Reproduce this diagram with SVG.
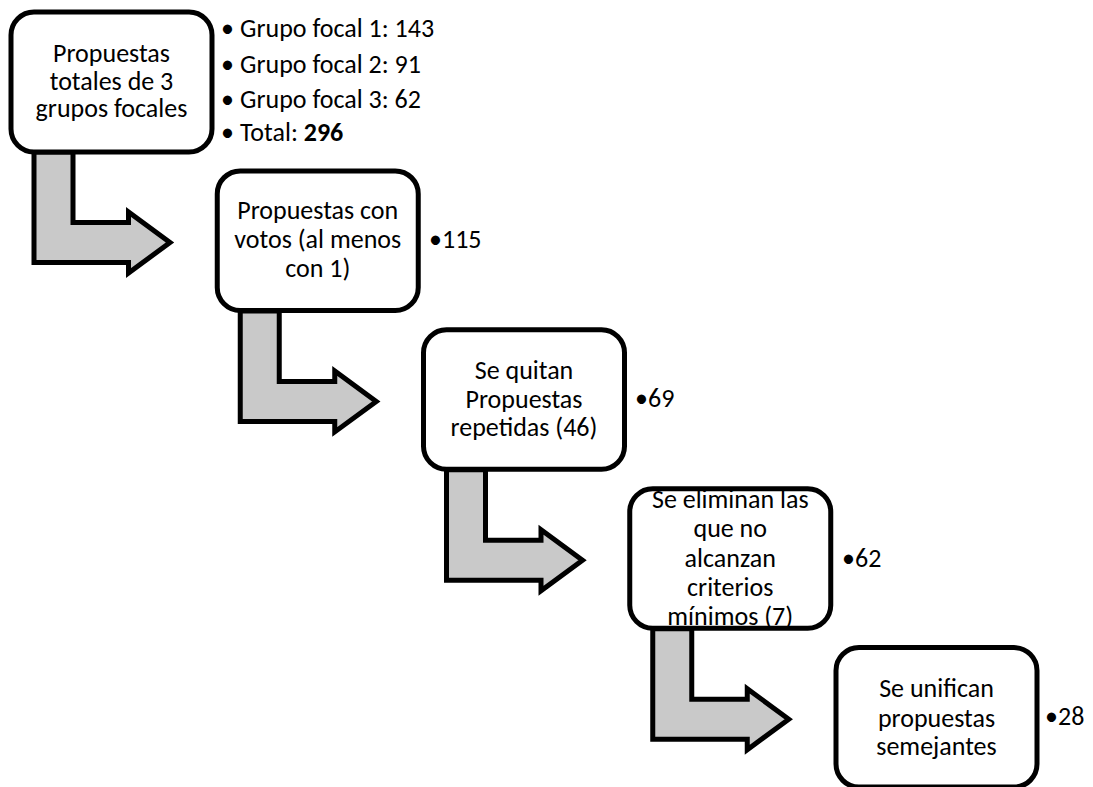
<svg xmlns="http://www.w3.org/2000/svg" width="1093" height="787" viewBox="0 0 1093 787">
  <defs>
    <style>
      .box { fill: #ffffff; stroke: #000000; stroke-width: 5; }
      .flow { fill: #c9c9c9; stroke: #000000; stroke-width: 5; stroke-linejoin: miter; stroke-miterlimit: 10; }
      .lbl { font-family: Carlito, Lato, "Liberation Sans", sans-serif; font-size: 26px; fill: #000000; text-anchor: middle; }
      .note { font-family: Carlito, Lato, "Liberation Sans", sans-serif; font-size: 26px; fill: #000000; }
      .bold { font-weight: bold; }
    </style>
    <!-- bent step arrow, origin at the top-left corner of the box it leaves -->
    <path id="step" d="M23,140 L62,140 L62,210.5 L117.5,210.5 L117.5,200 L159,230.5 L117.5,261 L117.5,250.5 L23,250.5 Z"/>
  </defs>

  <rect width="1093" height="787" fill="#ffffff"/>

  <!-- connectors -->
  <g id="connectors">
    <use href="#step" class="flow" transform="translate(11,12)"/>
    <use href="#step" class="flow" transform="translate(217.25,170.9)"/>
    <use href="#step" class="flow" transform="translate(423.5,329.8)"/>
    <use href="#step" class="flow" transform="translate(629.75,488.7)"/>
  </g>

  <!-- step 1 -->
  <g id="node-propuestas-totales">
    <rect class="box" x="11" y="12" width="201" height="140" rx="23" ry="23"/>
    <text class="lbl" x="111.5" y="62">Propuestas</text>
    <text class="lbl" x="111.5" y="89.5">totales de 3</text>
    <text class="lbl" x="111.5" y="117">grupos focales</text>
  </g>
  <g id="note-propuestas-totales">
    <text class="note" x="221" y="37">•</text>
    <text class="note" x="240" y="37">Grupo focal 1: 143</text>
    <text class="note" x="221" y="73">•</text>
    <text class="note" x="240" y="73">Grupo focal 2: 91</text>
    <text class="note" x="221" y="107.5">•</text>
    <text class="note" x="240" y="107.5">Grupo focal 3: 62</text>
    <text class="note" x="221" y="141">•</text>
    <text class="note" x="240" y="141">Total: <tspan class="bold">296</tspan></text>
  </g>

  <!-- step 2 -->
  <g id="node-con-votos">
    <rect class="box" x="217.25" y="170.9" width="201" height="139.5" rx="23" ry="23"/>
    <text class="lbl" x="317.75" y="218.5">Propuestas con</text>
    <text class="lbl" x="317.75" y="248">votos (al menos</text>
    <text class="lbl" x="317.75" y="277">con 1)</text>
    <text class="note" x="429" y="248">•115</text>
  </g>

  <!-- step 3 -->
  <g id="node-repetidas">
    <rect class="box" x="423.5" y="329.8" width="201" height="139.5" rx="23" ry="23"/>
    <text class="lbl" x="524" y="378.5">Se quitan</text>
    <text class="lbl" x="524" y="407.5">Propuestas</text>
    <text class="lbl" x="524" y="435.5">repetidas (46)</text>
    <text class="note" x="635" y="407">•69</text>
  </g>

  <!-- step 4 -->
  <g id="node-criterios">
    <rect class="box" x="629.75" y="488.7" width="201" height="139.5" rx="23" ry="23"/>
    <text class="lbl" x="730.25" y="508">Se eliminan las</text>
    <text class="lbl" x="730.25" y="537">que no</text>
    <text class="lbl" x="730.25" y="566.5">alcanzan</text>
    <text class="lbl" x="730.25" y="595.5">criterios</text>
    <text class="lbl" x="730.25" y="624.5">mínimos (7)</text>
    <text class="note" x="842" y="567">•62</text>
  </g>

  <!-- step 5 -->
  <g id="node-unificadas">
    <rect class="box" x="836" y="647.6" width="201" height="139.5" rx="23" ry="23"/>
    <text class="lbl" x="936.5" y="697">Se unifican</text>
    <text class="lbl" x="936.5" y="726.5">propuestas</text>
    <text class="lbl" x="936.5" y="755">semejantes</text>
    <text class="note" x="1045" y="725">•28</text>
  </g>
</svg>
